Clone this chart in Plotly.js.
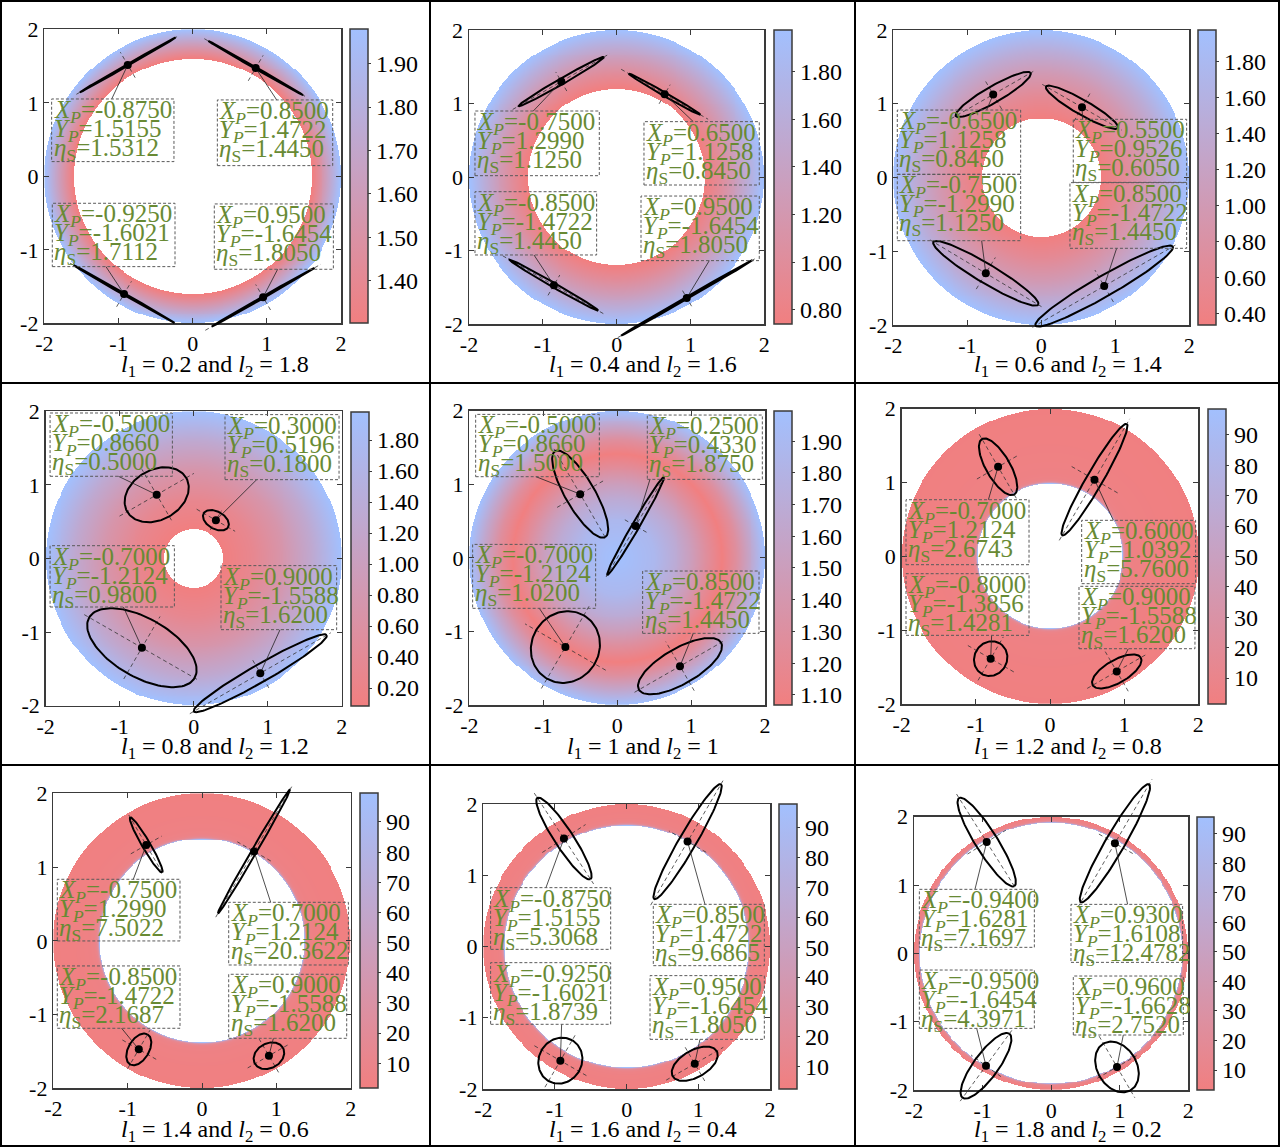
<!DOCTYPE html>
<html><head><meta charset="utf-8">
<script src="https://cdn.plot.ly/plotly-3.0.1.min.js"></script>
<style>body{margin:0;background:#fff}#chart{width:1280px;height:1147px}</style>
</head><body><div id="chart"></div>
<script>
// ---------------- data ----------------
const L1 = [0.2, 0.4, 0.6, 0.8, 1, 1.2, 1.4, 1.6, 1.8];
const L2 = [1.8, 1.6, 1.4, 1.2, 1, 0.8, 0.6, 0.4, 0.2];
const TICK_VALS = [-2, -1, 0, 1, 2];
const TICK_TEXT = ['-2', '-1', '0', '1', '2'];

// point order per panel: top-left, top-right, bottom-left, bottom-right
const XP = [
  [-0.8750, 0.8500, -0.9250, 0.9500],
  [-0.7500, 0.6500, -0.8500, 0.9500],
  [-0.6500, 0.5500, -0.7500, 0.8500],
  [-0.5000, 0.3000, -0.7000, 0.9000],
  [-0.5000, 0.2500, -0.7000, 0.8500],
  [-0.7000, 0.6000, -0.8000, 0.9000],
  [-0.7500, 0.7000, -0.8500, 0.9000],
  [-0.8750, 0.8500, -0.9250, 0.9500],
  [-0.9400, 0.9300, -0.9500, 0.9600]
];
const YP = [
  [1.5155, 1.4722, -1.6021, -1.6454],
  [1.2990, 1.1258, -1.4722, -1.6454],
  [1.1258, 0.9526, -1.2990, -1.4722],
  [0.8660, 0.5196, -1.2124, -1.5588],
  [0.8660, 0.4330, -1.2124, -1.4722],
  [1.2124, 1.0392, -1.3856, -1.5588],
  [1.2990, 1.2124, -1.4722, -1.5588],
  [1.5155, 1.4722, -1.6021, -1.6454],
  [1.6281, 1.6108, -1.6454, -1.6628]
];
const ETA = [
  [1.5312, 1.4450, 1.7112, 1.8050],
  [1.1250, 0.8450, 1.4450, 1.8050],
  [0.8450, 0.6050, 1.1250, 1.4450],
  [0.5000, 0.1800, 0.9800, 1.6200],
  [1.5000, 1.8750, 1.0200, 1.4450],
  [2.6743, 5.7600, 1.4281, 1.6200],
  [7.5022, 20.3622, 2.1687, 1.6200],
  [5.3068, 9.6865, 1.8739, 1.8050],
  [7.1697, 12.4782, 4.3971, 2.7520]
];
// ellipse semi-major, semi-minor, major-axis angle (deg)
const ELL_A = [
  [0.745, 0.738, 0.786, 0.80], [0.666, 0.56, 0.694, 1.027], [0.583, 0.561, 0.826, 1.071],
  [0.46, 0.19, 0.822, 1.037], [0.675, 0.764, 0.497, 0.641], [0.434, 0.87, 0.24, 0.374],
  [0.43, 0.97, 0.235, 0.217], [0.68, 0.93, 0.33, 0.354], [0.76, 0.996, 0.58, 0.395]
];
const ELL_B = [
  [0.012, 0.012, 0.012, 0.012], [0.04, 0.025, 0.03, 0.015], [0.11, 0.10, 0.13, 0.14],
  [0.34, 0.118, 0.399, 0.12], [0.199, 0.05, 0.457, 0.242], [0.162, 0.11, 0.22, 0.155],
  [0.055, 0.035, 0.139, 0.167], [0.13, 0.12, 0.30, 0.189], [0.16, 0.14, 0.18, 0.288]
];
const ELL_ANG = [
  [30, -30, -30, 30], [30, -30, -30, 30], [30, -30, -31, 30],
  [30, -30, -30, 30], [-60, 60, 60, 30], [-60, 60, 60, 30],
  [-60, 60, 60, 30], [-57, 60, 60, 30], [-58, 60, 54, -60]
];
// half-lengths of the dashed principal-axis lines
const DASH_MAJ = [
  [0.80, 0.80, 0.84, 0.90], [0.76, 0.68, 0.80, 1.08], [0.66, 0.62, 0.88, 1.12],
  [0.58, 0.30, 0.90, 1.10], [0.71, 0.80, 0.65, 0.71], [0.51, 0.95, 0.34, 0.46],
  [0.47, 1.03, 0.30, 0.33], [0.76, 1.03, 0.43, 0.46], [0.83, 1.08, 0.64, 0.52]
];
const DASH_MIN = [
  [0.20, 0.20, 0.20, 0.20], [0.15, 0.15, 0.16, 0.13], [0.23, 0.22, 0.25, 0.25],
  [0.40, 0.15, 0.49, 0.23], [0.36, 0.17, 0.63, 0.385], [0.33, 0.36, 0.36, 0.31],
  [0.24, 0.26, 0.27, 0.26], [0.36, 0.30, 0.42, 0.28], [0.33, 0.30, 0.27, 0.33]
];
// label boxes [x0, x1, y0, y1] in data units
const BOX = [
  [[-1.901,-0.252,0.200,1.052],[0.333,1.888,0.145,1.039],[-1.892,-0.238,-1.229,-0.367],[0.292,1.897,-1.265,-0.376]],
  [[-1.919,-0.235,0.018,0.898],[0.370,1.932,-0.109,0.753],[-1.919,-0.271,-1.061,-0.200],[0.330,1.932,-1.138,-0.259]],
  [[-1.946,-0.279,0.043,0.915],[0.432,1.964,-0.066,0.789],[-1.946,-0.279,-0.857,0.043],[0.387,1.964,-0.960,-0.070]],
  [[-1.941,-0.288,1.117,1.977],[0.423,1.964,1.071,1.955],[-1.941,-0.261,-0.659,0.174],[0.369,1.932,-0.967,-0.097]],
  [[-1.914,-0.241,1.103,1.950],[0.408,1.964,1.067,1.941],[-1.955,-0.291,-0.686,0.183],[0.345,1.919,-1.026,-0.179]],
  [[-1.942,-0.283,-0.113,0.767],[0.427,1.964,-0.370,0.488],[-1.942,-0.283,-1.070,-0.235],[0.391,1.955,-1.251,-0.406]],
  [[-1.946,-0.296,-0.002,0.834],[0.359,1.969,-0.328,0.522],[-1.946,-0.296,-1.186,-0.341],[0.359,1.946,-1.322,-0.454]],
  [[-1.898,-0.223,-0.040,0.826],[0.372,1.921,-0.269,0.592],[-1.898,-0.223,-1.092,-0.227],[0.326,1.921,-1.303,-0.409]],
  [[-1.922,-0.245,0.088,0.937],[0.289,1.917,-0.132,0.717],[-1.922,-0.245,-1.098,-0.244],[0.323,1.927,-1.195,-0.332]]
];
// connector end points on the boxes
const CONN_X = [
  [-1.091, 1.133, -1.169, 1.146], [-1.129, 1.038, -1.12, 1.255], [-0.739, 0.559, -0.806, 1.018],
  [-1.018, 0.851, -0.95, 1.167], [-1.098, 0.444, -1.053, 1.03], [-0.831, 0.854, -0.787, 1.056],
  [-0.924, 0.924, -1.081, 0.96], [-1.126, 1.093, -0.907, 1.023], [-1.111, 1.115, -1.086, 1.052]
];
const CONN_Y = [
  [1.052, 1.039, -1.229, -1.265], [0.898, 0.753, -1.061, -1.138], [0.915, 0.789, -0.857, -0.960],
  [1.117, 1.071, -0.659, -0.967], [1.103, 1.067, -0.686, -1.026], [0.767, 0.488, -1.070, -1.251],
  [0.834, 0.522, -1.186, -1.322], [0.826, 0.592, -1.092, -1.303], [0.937, 0.717, -1.098, -1.195]
];
// colour field: value read along the radius of the drawn workspace annulus
const RAD_PROFILE = [
  [1.6, 1.7, 1.8, 1.9, 2.0],
  [1.2, 1.4, 1.6, 1.8, 2.0],
  [0.8, 1.1, 1.4, 1.7, 2.0],
  [0.4, 0.8, 1.2, 1.6, 2.0],
  [0, 0.5, 0.8, 1.0, 1.2, 1.414, 1.6, 1.8, 2.0],
  [0.98, 0.99, 1.0, 1.015, 1.04, 1.10, 1.3, 1.6, 2.0],
  [1.38, 1.39, 1.40, 1.415, 1.44, 1.50, 1.7, 2.0],
  [1.70, 1.71, 1.72, 1.735, 1.76, 1.82, 2.0],
  [1.91, 1.92, 1.93, 1.945, 1.97, 2.0]
];
const VAL_PROFILE = [
  [1.28, 1.445, 1.62, 1.805, 2.0],
  [0.72, 0.98, 1.28, 1.62, 2.0],
  [0.32, 0.605, 0.98, 1.445, 2.0],
  [0.08, 0.32, 0.72, 1.28, 2.0],
  [2.0, 1.875, 1.68, 1.5, 1.28, 1.07, 1.28, 1.62, 2.0],
  [98, 50, 25, 12, 7, 5, 4, 3, 2],
  [99, 50, 25, 12, 7, 5, 3.5, 2.5],
  [98, 50, 25, 12, 7, 5, 3.5],
  [95, 45, 20, 10, 6, 4.5]
];
const ZMIN = [1.302, 0.741, 0.335, 0.086, 1.068, 1.45, 1.67, 2.54, 3.24];
const ZMAX = [1.979, 1.975, 1.976, 1.983, 1.995, 98.5, 99.5, 97.9, 95.6];
const CB_TICKS = [
  [1.4, 1.5, 1.6, 1.7, 1.8, 1.9],
  [0.8, 1.0, 1.2, 1.4, 1.6, 1.8],
  [0.4, 0.6, 0.8, 1.0, 1.2, 1.4, 1.6, 1.8],
  [0.2, 0.4, 0.6, 0.8, 1.0, 1.2, 1.4, 1.6, 1.8],
  [1.1, 1.2, 1.3, 1.4, 1.5, 1.6, 1.7, 1.8, 1.9],
  [10, 20, 30, 40, 50, 60, 70, 80, 90],
  [10, 20, 30, 40, 50, 60, 70, 80, 90],
  [10, 20, 30, 40, 50, 60, 70, 80, 90],
  [10, 20, 30, 40, 50, 60, 70, 80, 90]
];
const CB_FMT = ['.2f', '.2f', '.2f', '.2f', '.2f', 'd', 'd', 'd', 'd'];

// ---------------- layout geometry (pixels) ----------------
const W = 1280, H = 1147;
const PLOT = [[44.3,341,29.3,323.3],[469,764.3,30,324],[893.3,1189.3,30,325],
  [45.7,341.7,411.3,705.7],[469.3,765,410.7,705],[901.7,1198.3,408.7,704],
  [53.3,350.7,793.3,1088.3],[483.3,770,804,1089],[914,1188.3,816.7,1090]];
const CBX = [[350,368.3],[774.3,792.3],[1198.3,1216.7],[351,369],[774.3,792.7],[1208.3,1226],
  [360,377.7],[779.3,797.3],[1197.3,1214.3]];
const CELL_X = [0, 430, 855, 1280], CELL_Y = [0, 383, 765, 1147];
const CAP_Y = [366, 748, 1131];

const FONT = 'Liberation Serif, Times New Roman, serif';
const GREEN = 'rgb(104,138,52)';
const AXC = '#3a3a3a';
const CSCALE = [[0, 'rgb(241,127,128)'], [0.5, 'rgb(201,160,192)'], [1, 'rgb(162,192,254)']];

function interp(r, rad, val) {
  const n = rad.length;
  if (r < rad[0] - 1e-9 || r > rad[n - 1] + 1e-9) return null;
  for (let i = 0; i < n - 1; i++) {
    if (r <= rad[i + 1]) {
      const t = (r - rad[i]) / (rad[i + 1] - rad[i]);
      return val[i] + t * (val[i + 1] - val[i]);
    }
  }
  return val[n - 1];
}

const traces = [], shapes = [], annotations = [];
const layout = {
  width: W, height: H, margin: {l: 0, r: 0, t: 0, b: 0, pad: 0},
  paper_bgcolor: '#fff', plot_bgcolor: 'rgba(0,0,0,0)', showlegend: false,
  font: {family: FONT, color: '#000'}
};
const fmt = v => v.toFixed(4);

for (let k = 0; k < 9; k++) {
  const col = k % 3, row = Math.floor(k / 3);
  const [L, R, T, B] = PLOT[k];
  const n = 2 * k + 1, m = 2 * k + 2;
  const xn = n === 1 ? '' : String(n);
  const xid = 'x' + xn, yid = 'y' + xn, xo = 'x' + m, yo = 'y' + m;
  const axBase = {
    range: [-2, 2], showgrid: false, zeroline: false, showline: true, linecolor: AXC, linewidth: 1.5,
    mirror: 'ticks', ticks: 'inside', ticklen: 5, tickcolor: AXC, tickwidth: 1,
    tickvals: TICK_VALS, ticktext: TICK_TEXT, tickfont: {family: FONT, size: 22, color: '#000'},
    fixedrange: true
  };
  layout['xaxis' + xn] = Object.assign({}, axBase, {domain: [L / W, R / W], anchor: yid});
  layout['yaxis' + xn] = Object.assign({}, axBase, {domain: [1 - B / H, 1 - T / H], anchor: xid});
  // overlay axes covering the whole cell with identical scale (for unclipped ellipses)
  const cx0 = CELL_X[col], cx1 = CELL_X[col + 1], cy0 = CELL_Y[row], cy1 = CELL_Y[row + 1];
  const sx = 4 / (R - L), sy = 4 / (B - T);
  layout['xaxis' + m] = {domain: [cx0 / W, cx1 / W], range: [-2 - (L - cx0) * sx, 2 + (cx1 - R) * sx],
    visible: false, fixedrange: true, anchor: yo};
  layout['yaxis' + m] = {domain: [1 - cy1 / H, 1 - cy0 / H], range: [-2 - (cy1 - B) * sy, 2 + (T - cy0) * sy],
    visible: false, fixedrange: true, anchor: xo};

  // heatmap of the workspace annulus
  const N = 300, g = [];
  for (let i = 0; i < N; i++) g.push(-2 + (i + 0.5) * 4 / N);
  const z = [];
  for (let j = 0; j < N; j++) {
    const rowz = [];
    for (let i = 0; i < N; i++) rowz.push(interp(Math.hypot(g[i], g[j]), RAD_PROFILE[k], VAL_PROFILE[k]));
    z.push(rowz);
  }
  traces.push({
    type: 'heatmap', x: g, y: g, z: z, xaxis: xid, yaxis: yid, zmin: ZMIN[k], zmax: ZMAX[k],
    colorscale: CSCALE, zsmooth: false, hoverinfo: 'skip',
    colorbar: {
      x: CBX[k][0] / W, xanchor: 'left', xpad: 0, y: 1 - B / H, yanchor: 'bottom', ypad: 0,
      len: B - T, lenmode: 'pixels', thickness: CBX[k][1] - CBX[k][0], thicknessmode: 'pixels',
      outlinewidth: 1.5, outlinecolor: AXC, ticks: 'outside', ticklen: 3, tickcolor: AXC,
      tickmode: 'array', tickvals: CB_TICKS[k], tickformat: CB_FMT[k],
      tickfont: {family: FONT, size: 24, color: '#000'}
    }
  });

  // ellipses, dashed axes, connectors, points
  const ex = [], ey = [], dx = [], dy = [], cxs = [], cys = [];
  for (let p = 0; p < 4; p++) {
    const xc = XP[k][p], yc = YP[k][p], a = ELL_A[k][p], b = ELL_B[k][p];
    const th = ELL_ANG[k][p] * Math.PI / 180, c = Math.cos(th), s = Math.sin(th);
    for (let t = 0; t <= 120; t++) {
      const u = t / 120 * 2 * Math.PI;
      ex.push(xc + a * Math.cos(u) * c - b * Math.sin(u) * s);
      ey.push(yc + a * Math.cos(u) * s + b * Math.sin(u) * c);
    }
    ex.push(null); ey.push(null);
    const dm = DASH_MAJ[k][p], dn = DASH_MIN[k][p];
    dx.push(xc - dm * c, xc + dm * c, null, xc + dn * s, xc - dn * s, null);
    dy.push(yc - dm * s, yc + dm * s, null, yc - dn * c, yc + dn * c, null);
    cxs.push(xc, CONN_X[k][p], null); cys.push(yc, CONN_Y[k][p], null);

    const bx = BOX[k][p];
    shapes.push({type: 'rect', xref: xid, yref: yid, x0: bx[0], x1: bx[1], y0: bx[2], y1: bx[3],
      line: {color: '#5a5a5a', width: 1, dash: '3px,2px'}, fillcolor: 'rgba(0,0,0,0)', layer: 'above'});
    const lines = [
      '<i>X</i><sub><i>P</i></sub>=' + fmt(XP[k][p]),
      '<i>Y</i><sub><i>P</i></sub>=' + fmt(YP[k][p]),
      '<i>η</i><sub>S</sub>=' + fmt(ETA[k][p])
    ];
    lines.forEach((txt, li) => {
      annotations.push({xref: xid, yref: yid, x: bx[0], y: bx[3], xanchor: 'left', yanchor: 'top',
        xshift: 0, yshift: 5 - li * 19, showarrow: false, text: txt,
        font: {family: FONT, size: 25, color: GREEN}});
    });
  }
  traces.push({type: 'scatter', mode: 'lines', x: dx, y: dy, xaxis: xo, yaxis: yo, hoverinfo: 'skip',
    line: {color: '#333', width: 0.8, dash: '4px,3px'}});
  traces.push({type: 'scatter', mode: 'lines', x: ex, y: ey, xaxis: xo, yaxis: yo, hoverinfo: 'skip',
    line: {color: '#000', width: 2}});
  traces.push({type: 'scatter', mode: 'lines', x: cxs, y: cys, xaxis: xo, yaxis: yo, hoverinfo: 'skip',
    line: {color: '#222', width: 0.8}});
  traces.push({type: 'scatter', mode: 'markers', x: XP[k], y: YP[k], xaxis: xo, yaxis: yo, hoverinfo: 'skip',
    marker: {color: '#000', size: 8}});

  // caption
  annotations.push({xref: 'paper', yref: 'paper', x: (cx0 + cx1) / 2 / W, y: 1 - CAP_Y[row] / H,
    xanchor: 'center', yanchor: 'middle', showarrow: false,
    text: '<i>l</i><sub>1</sub> = ' + L1[k] + ' and <i>l</i><sub>2</sub> = ' + L2[k],
    font: {family: FONT, size: 24, color: '#000'}});
}

// table grid lines
[1, 430, 855, 1279].forEach(x => shapes.push({type: 'line', xref: 'paper', yref: 'paper',
  x0: x / W, x1: x / W, y0: 0, y1: 1, line: {color: '#000', width: 2}, layer: 'above'}));
[1, 383, 765, 1146].forEach(y => shapes.push({type: 'line', xref: 'paper', yref: 'paper',
  x0: 0, x1: 1, y0: 1 - y / H, y1: 1 - y / H, line: {color: '#000', width: 2}, layer: 'above'}));

layout.shapes = shapes;
layout.annotations = annotations;
Plotly.newPlot('chart', traces, layout, {staticPlot: true, displayModeBar: false});
</script>
</body></html>
